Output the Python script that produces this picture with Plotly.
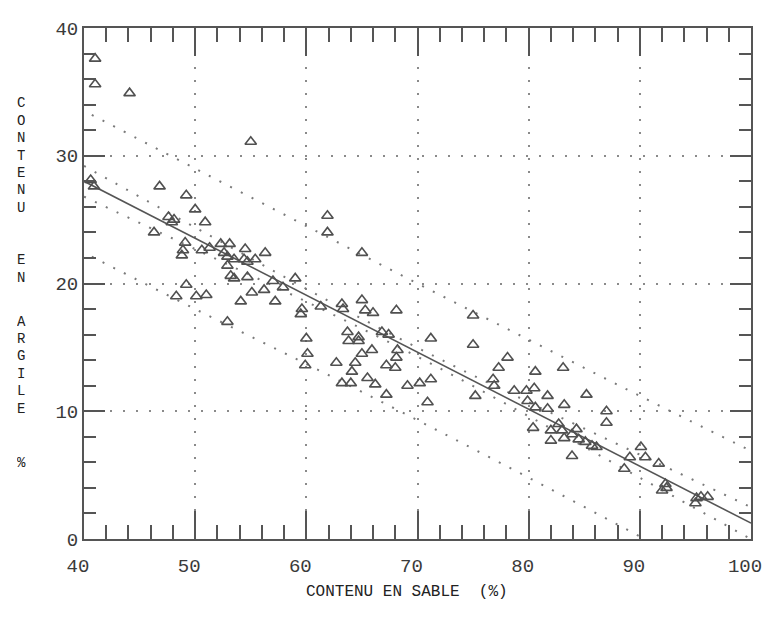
import plotly.graph_objects as go

# ---- data ----
sand = [41.0, 41.0, 44.1, 55.0, 40.6, 40.9,
        46.8, 49.2, 50.0, 50.9, 47.6, 47.9, 48.1, 46.3, 49.1, 48.9, 48.8, 50.6, 51.3, 52.3,
        53.1, 52.6, 52.9, 53.5, 52.9, 53.2, 53.5, 54.5, 54.4, 55.4, 54.7, 54.7, 56.3, 49.2,
        48.3, 50.1, 51.0, 52.9, 54.1, 55.1, 56.2, 57.2, 57.0, 57.9, 59.0, 59.6, 59.5, 61.3,
        60.0, 60.1, 59.9,
        61.9, 61.9, 65.0,
        63.2, 63.3, 65.0, 65.3, 66.0, 68.1, 63.7, 63.8, 64.7, 64.7, 62.7, 63.2, 64.0, 64.1,
        64.4, 65.0, 65.9, 65.5, 66.2, 67.2, 68.0, 68.1, 68.2, 67.2, 67.4, 66.8, 69.1, 70.2,
        71.2, 71.2, 70.9, 75.0, 75.0, 75.2,
        78.1, 77.3, 76.8, 76.9, 80.6, 83.1, 78.7, 79.8, 80.5, 79.9, 80.6, 81.7, 81.7, 83.2,
        85.2, 87.0, 87.0, 80.4, 82.0, 82.0, 82.7, 83.0, 83.2, 83.9, 84.3, 84.5, 83.9, 85.1,
        85.7, 86.1,
        89.1, 88.6, 90.1, 90.5, 91.7, 92.3, 92.0, 92.4, 95.1, 95.5, 96.1, 95.0]
clay = [37.6, 35.6, 34.9, 31.1, 28.1, 27.6,
        27.6, 26.9, 25.8, 24.8, 25.2, 24.8, 25.0, 24.0, 23.2, 22.6, 22.2, 22.6, 22.8, 23.1,
        23.1, 22.4, 22.1, 21.9, 21.4, 20.6, 20.4, 22.7, 21.9, 21.9, 21.7, 20.5, 22.4, 19.9,
        19.0, 19.0, 19.1, 17.0, 18.6, 19.3, 19.5, 18.6, 20.2, 19.7, 20.4, 18.0, 17.6, 18.2,
        15.7, 14.5, 13.6,
        25.3, 24.0, 22.4,
        18.4, 18.0, 18.7, 17.9, 17.7, 17.9, 16.2, 15.5, 15.8, 15.5, 13.8, 12.2, 12.2, 13.1,
        13.8, 14.5, 14.8, 12.6, 12.1, 13.6, 13.4, 14.2, 14.8, 11.3, 16.0, 16.2, 12.0, 12.2,
        12.5, 15.7, 10.7, 17.5, 15.2, 11.2,
        14.2, 13.4, 12.5, 12.0, 13.1, 13.4, 11.6, 11.6, 11.8, 10.8, 10.3, 11.2, 10.2, 10.5,
        11.3, 10.0, 9.1, 8.7, 8.5, 7.7, 9.0, 8.5, 7.9, 8.2, 8.6, 7.8, 6.5, 7.6,
        7.3, 7.2,
        6.4, 5.5, 7.2, 6.4, 5.9, 4.3, 3.8, 4.0, 3.2, 3.3, 3.3, 2.8]

band_x = [40, 50, 60, 70, 80, 90, 100]
fit_y = [28.0, 23.54, 19.08, 14.62, 10.16, 5.70, 1.24]
conf_hi = [29.2, 24.39, 19.58, 14.97, 10.71, 6.6, 2.49]
conf_lo = [26.8, 22.69, 18.58, 14.27, 9.61, 4.8, -0.01]
pred_x = [40.7, 50, 60, 70, 80, 90, 100]
pred_hi = [33.2, 29.0, 24.5, 20.0, 15.6, 11.2, 6.9]
pred_lo = [22.1, 18.0, 13.7, 9.3, 4.8, 0.2, -4.5]

x_ticks = [40, 50, 60, 70, 80, 90, 100]
y_ticks = [0, 10, 20, 30, 40]
x_title = "CONTENU EN SABLE  (%)"
y_words = ["CONTENU", "EN", "ARGILE", "%"]

# ---- geometry (reference pixels) ----
OFF = 8                      # default body margin of the html page
L, R, T, B = 84, 762, 24, 539
W, H = 781 - 2 * OFF, 623 - 2 * OFF
pw, ph = R - L, B - T

EDGE = "#555555"
FONT = "Liberation Mono"
fig = go.Figure()

# prediction and confidence bands (dotted), fitted line (solid)
dot = dict(color="#7a7a7a", width=2, dash="2px,10px")
for xs, ys in [(pred_x, pred_hi), (pred_x, pred_lo), (band_x, conf_hi), (band_x, conf_lo)]:
    fig.add_trace(go.Scatter(x=xs, y=ys, mode="lines", line=dict(shape="spline", **dot),
                             hoverinfo="skip", showlegend=False))
fig.add_trace(go.Scatter(x=band_x, y=fit_y, mode="lines",
                         line=dict(color="#555555", width=1.6), showlegend=False))

# observations
fig.add_trace(go.Scatter(x=sand, y=clay, mode="markers", showlegend=False,
                         marker=dict(symbol="triangle-up-open", size=10,
                                     color="#505050", line=dict(width=1.6, color="#505050"))))

axis_common = dict(showline=True, linecolor=EDGE, linewidth=2, mirror="ticks",
                   ticks="inside", tickcolor=EDGE, tickwidth=2,
                   showgrid=True, gridcolor="#8a8a8a", gridwidth=2, griddash="2px,11px",
                   zeroline=False, ticklabeloverflow="allow",
                   tickfont=dict(family=FONT, size=19, color="#3a3a3a"))
fig.update_xaxes(range=[40, 100], tickmode="array", tickvals=x_ticks, ticklen=28,
                 minor=dict(dtick=2, ticks="inside", ticklen=14, tickcolor=EDGE,
                            tickwidth=2),
                 ticklabelstandoff=8, ticklabelshift=-6, **axis_common)
fig.update_yaxes(range=[0, 40], tickmode="array", tickvals=y_ticks, ticklen=21,
                 ticksuffix="  ",
                 minor=dict(dtick=2, ticks="inside", ticklen=12, tickcolor=EDGE,
                            tickwidth=2),
                 **axis_common)

def px2paper(px, py):
    return (px - L) / pw, (B - py) / ph

# x-axis title
ax, ay = px2paper(412, 603)
fig.add_annotation(text=x_title, x=ax, y=ay, xref="paper", yref="paper",
                   showarrow=False, font=dict(family=FONT, size=16, color="#222222"))

# vertical stacked y-axis title: one upright letter per line
starts = [100, 258, 320, 462]
pitch = 17.5
for word, y0 in zip(y_words, starts):
    for i, ch in enumerate(word):
        lx, ly = px2paper(20, y0 + i * pitch)
        fig.add_annotation(text=ch, x=lx, y=ly, xref="paper", yref="paper",
                           showarrow=False, height=14, borderpad=0,
                           yanchor="middle", xanchor="center",
                           font=dict(family=FONT, size=14, color="#222222"))

fig.update_layout(width=W, height=H,
                  margin=dict(l=L - OFF, r=OFF + W - R, t=T - OFF, b=OFF + H - B),
                  paper_bgcolor="white", plot_bgcolor="white")

fig.write_html("out.html")
